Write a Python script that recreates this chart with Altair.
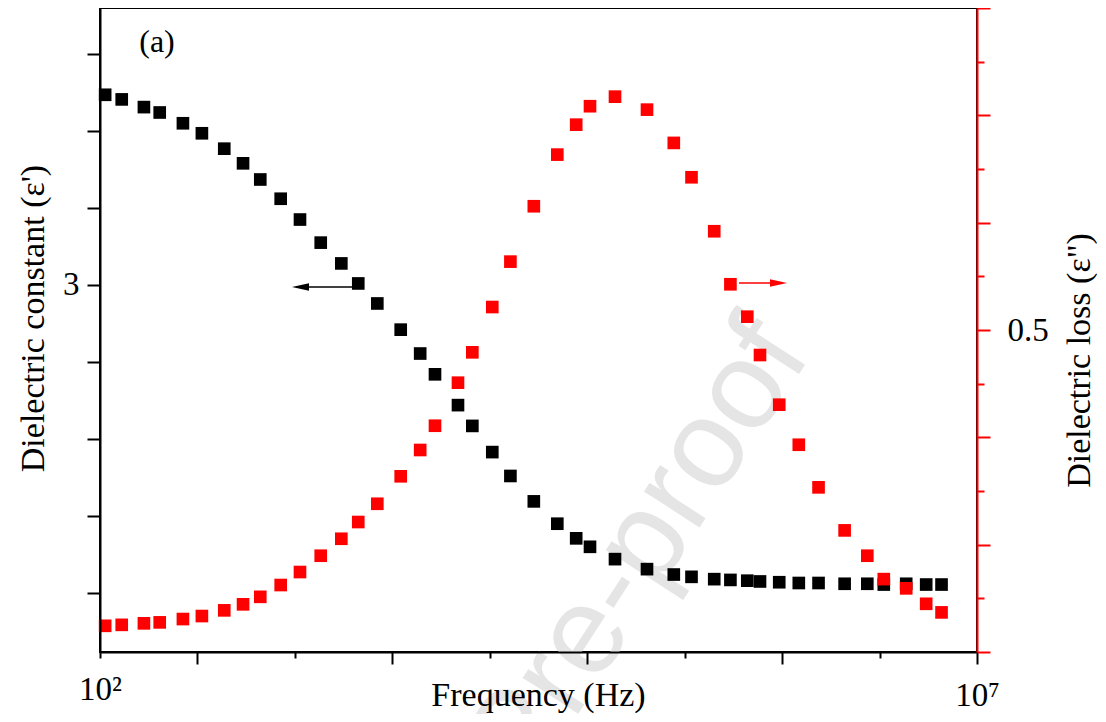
import altair as alt
import pandas as pd

# ---- data ----
freq = [107, 133, 178, 219, 297, 381, 511, 654, 820, 1072,
        1381, 1813, 2376, 2968, 3811, 5181, 6690, 8126, 10990, 13270,
        17240, 21870, 29740, 40480, 51870, 62180, 86330, 131400, 186800, 235700,
        317600, 392800, 490200, 579200, 745500, 964000, 1249000, 1759000, 2369000, 2942000,
        3948000, 5132000, 6278000]
eps1 = [3.247, 3.241, 3.231, 3.224, 3.210, 3.197, 3.177, 3.158, 3.137, 3.112,
        3.085, 3.055, 3.028, 3.002, 2.976, 2.942, 2.911, 2.884, 2.844, 2.817,
        2.783, 2.752, 2.719, 2.690, 2.671, 2.660, 2.644, 2.631, 2.624, 2.621,
        2.618, 2.617, 2.616, 2.615, 2.614, 2.613, 2.613, 2.612, 2.612, 2.611,
        2.612, 2.611, 2.611]
eps2 = [0.2244, 0.2253, 0.2267, 0.2276, 0.2307, 0.2335, 0.2388, 0.2444, 0.2514, 0.2624,
        0.2745, 0.2897, 0.3055, 0.3211, 0.3381, 0.3637, 0.3882, 0.4108, 0.4509, 0.4792,
        0.5214, 0.5637, 0.6153, 0.6634, 0.6913, 0.7085, 0.7174, 0.7053, 0.6743, 0.6423,
        0.5920, 0.5426, 0.5124, 0.4767, 0.4304, 0.3931, 0.3534, 0.3133, 0.2897, 0.2679,
        0.2593, 0.2449, 0.2369]

x_ticks = [100, 359.4, 1291.5, 4641.6, 16681, 59948, 215443, 774264, 2782559, 10000000]
left_ticks = [2.6, 2.7, 2.8, 2.9, 3.0, 3.1, 3.2, 3.3]
right_ticks = [0.2, 0.25, 0.3, 0.35, 0.4, 0.45, 0.5, 0.55, 0.6, 0.65, 0.7, 0.75, 0.8]

# arrows (data coordinates)
arrow_l_x = [1381, 2733]
arrow_l_head = 1390
arrow_l_y = 2.9974
arrow_r_x = [439700, 705300]
arrow_r_head = 738600
arrow_r_y = 0.5438

pts = pd.DataFrame({"freq": freq, "eps1": eps1, "eps2": eps2})
al_line = pd.DataFrame({"freq": [arrow_l_x[0]], "freq2": [arrow_l_x[1]], "eps1": [arrow_l_y]})
al_head = pd.DataFrame({"freq": [arrow_l_head], "eps1": [arrow_l_y]})
ar_line = pd.DataFrame({"freq": [arrow_r_x[0]], "freq2": [arrow_r_x[1]], "eps2": [arrow_r_y]})
ar_head = pd.DataFrame({"freq": [arrow_r_head], "eps2": [arrow_r_y]})
label_df = pd.DataFrame({"t": ["(a)"]})
wm_df = pd.DataFrame({"t": ["Pre-proof"]})

W, H = 877, 644
FONT = "Liberation Serif"

x_axis = alt.Axis(
    values=x_ticks, title="Frequency (Hz)", grid=False, zindex=1,
    labelExpr="datum.value == 100 ? '10²' : (datum.value == 10000000 ? '10⁷' : '')",
    labelOverlap=False, labelFlush=False,
    tickSize={"condition": {"test": "abs((7 - log(datum.value)/LN10)*0.9 - round((7 - log(datum.value)/LN10)*0.9)) < 0.05", "value": 12}, "value": 6},
    tickColor="black", tickWidth=2, domainColor="black", domainWidth=2,
    labelFont=FONT, labelFontSize=33, labelColor="black", labelBaseline="alphabetic", labelPadding=41,
    titleFont=FONT, titleFontSize=34, titleFontWeight="normal", titleColor="black",
    titleBaseline="alphabetic", titleY=53, titleX=438,
)
xenc = alt.X("freq:Q", scale=alt.Scale(type="log", domain=[100, 10000000], nice=False), axis=x_axis)

left_axis = alt.Axis(
    orient="left", values=left_ticks, grid=False, zindex=1,
    labelExpr="datum.value == 3 ? '3' : ''", labelOverlap=False,
    title="Dielectric constant (ε')", tickSize=13, tickWidth=2, tickColor="black",
    domainColor="black", domainWidth=2, labelPadding=8,
    labelFont=FONT, labelFontSize=33, labelColor="black",
    titleFont=FONT, titleFontSize=34, titleFontWeight="normal", titleColor="black",
    titleAngle=270, titleX=-57, titleY=310, titleAlign="center", titleBaseline="alphabetic",
)
yL = alt.Y("eps1:Q", scale=alt.Scale(domain=[2.5234, 3.3597], nice=False, zero=False), axis=left_axis)

right_axis = alt.Axis(
    orient="right", values=right_ticks, grid=False, zindex=1,
    labelExpr="datum.value == 0.5 ? '0.5' : ''", labelOverlap=False,
    title="Dielectric loss (ε\")",
    tickSize={"condition": {"test": "abs(datum.value*10 - round(datum.value*10)) < 0.01", "value": 13}, "value": 7},
    tickWidth=2, tickColor="red", domainColor="red", domainWidth=2, labelPadding=17,
    labelFont=FONT, labelFontSize=33, labelColor="black",
    titleFont=FONT, titleFontSize=34, titleFontWeight="normal", titleColor="black",
    titleAngle=270, titleX=112, titleY=352, titleAlign="center", titleBaseline="alphabetic",
)
yR = alt.Y("eps2:Q", scale=alt.Scale(domain=[0.2, 0.8], nice=False, zero=False), axis=right_axis)

watermark = alt.Chart(wm_df).mark_text(
    font="Liberation Sans", fontSize=125, color="#e5e5e5", angle=303,
    align="right", baseline="alphabetic"
).encode(x=alt.value(712), y=alt.value(346), text="t:N")

tag = alt.Chart(label_df).mark_text(
    font=FONT, fontSize=32, color="black", align="center", baseline="middle"
).encode(x=alt.value(57), y=alt.value(34), text="t:N")

black_pts = alt.Chart(pts).mark_square(size=160, color="black", opacity=1).encode(x=xenc, y=yL)
black_line = alt.Chart(al_line).mark_rule(color="black", strokeWidth=1.5).encode(
    x=xenc, x2=alt.X2("freq2:Q"), y=yL)
black_head = alt.Chart(al_head).mark_point(
    shape="M -1 0 L 1 -0.45 L 1 0.45 Z", filled=True, size=289, color="black", opacity=1, strokeWidth=0
).encode(x=xenc, y=yL)

red_pts = alt.Chart(pts).mark_square(size=160, color="#ff0000", opacity=1).encode(x=xenc, y=yR)
red_line = alt.Chart(ar_line).mark_rule(color="#ff0000", strokeWidth=1.5).encode(
    x=xenc, x2=alt.X2("freq2:Q"), y=yR)
red_head = alt.Chart(ar_head).mark_point(
    shape="M 1 0 L -1 -0.45 L -1 0.45 Z", filled=True, size=289, color="#ff0000", opacity=1, strokeWidth=0
).encode(x=xenc, y=yR)

left_group = alt.layer(watermark, tag, black_pts, black_line, black_head)
right_group = alt.layer(red_pts, red_line, red_head)

chart = alt.layer(left_group, right_group).resolve_scale(y="independent").properties(
    width=W, height=H,
    autosize=alt.AutoSizeParams(type="none"),
    padding={"left": 92, "top": 0, "right": 120, "bottom": 62},
    background="white",
).configure_view(stroke="black", strokeWidth=2)

chart.save("out.html", embed_options={"renderer": "svg", "actions": False})
